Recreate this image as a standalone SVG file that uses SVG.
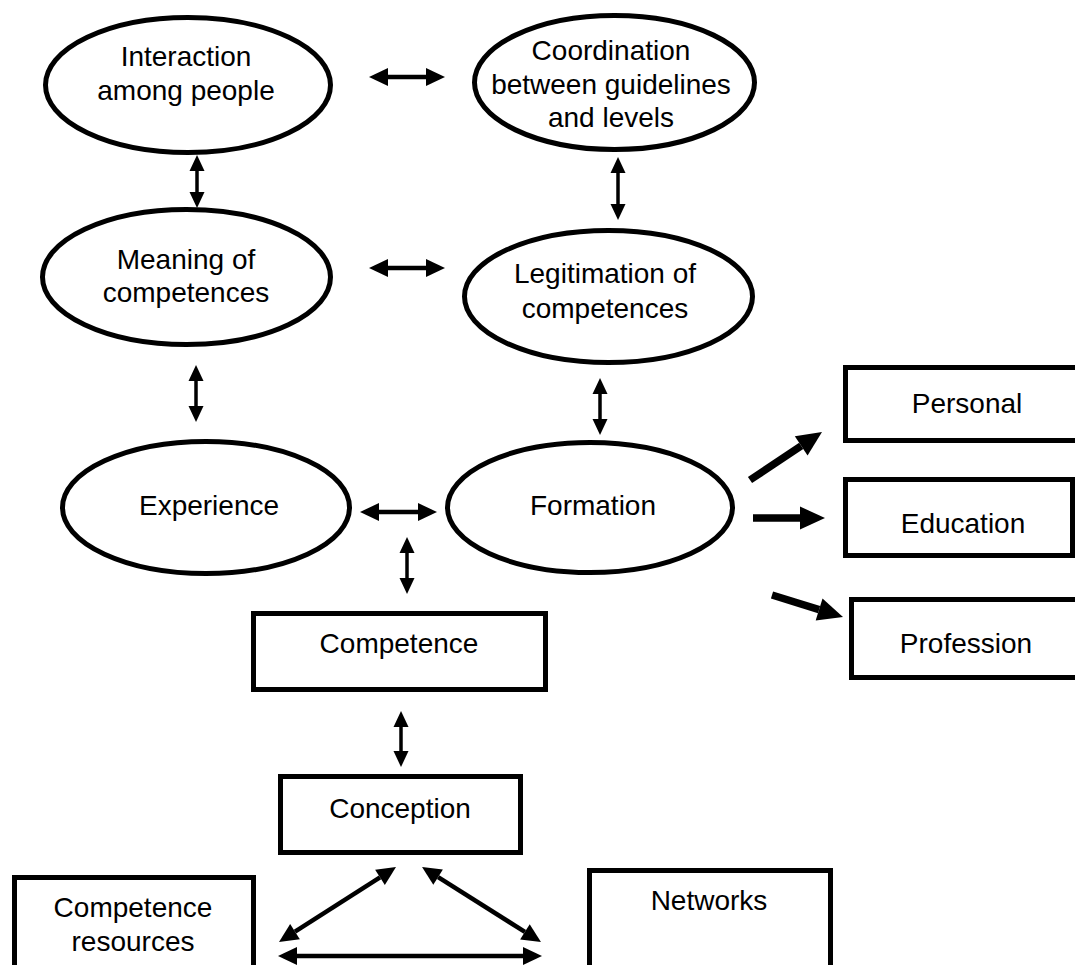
<svg xmlns="http://www.w3.org/2000/svg" width="1075" height="965" viewBox="0 0 1075 965">
<style>
.n{fill:#fff;stroke:#000;stroke-width:5}
.t{font-family:"Liberation Sans",Arial,sans-serif;font-size:28px;fill:#000;text-anchor:middle}
.v{stroke:#000;stroke-width:3.5;fill:none;marker-start:url(#ah);marker-end:url(#ah)}
.h{stroke:#000;stroke-width:4.5;fill:none;marker-start:url(#ah2);marker-end:url(#ah2)}
.k{stroke:#000;stroke-width:7.5;fill:none;marker-end:url(#bh)}
</style>
<defs>
<marker id="ah" markerUnits="userSpaceOnUse" viewBox="0 -7.5 16 15" markerWidth="16" markerHeight="15" refX="0" refY="0" orient="auto-start-reverse" overflow="visible">
<path d="M0,-7.5 L16,0 L0,7.5 Z" fill="#000"/>
</marker>
<marker id="ah2" markerUnits="userSpaceOnUse" viewBox="0 -9 19 18" markerWidth="19" markerHeight="18" refX="0" refY="0" orient="auto-start-reverse" overflow="visible">
<path d="M0,-9 L19,0 L0,9 Z" fill="#000"/>
</marker>
<marker id="bh" markerUnits="userSpaceOnUse" viewBox="0 -12 25 24" markerWidth="25" markerHeight="24" refX="0" refY="0" orient="auto" overflow="visible">
<path d="M0,-11.5 L25,0 L0,11.5 Z" fill="#000"/>
</marker>
</defs>
<rect width="1075" height="965" fill="#fff"/>
<g id="interaction"><ellipse class="n" cx="188" cy="85" rx="142.5" ry="67.5"/><text class="t" x="186" y="66">Interaction</text><text class="t" x="186" y="100">among people</text></g>
<g id="coordination"><ellipse class="n" cx="614.5" cy="82.5" rx="140" ry="67"/><text class="t" x="611" y="60">Coordination</text><text class="t" x="611" y="94">between guidelines</text><text class="t" x="611" y="127">and levels</text></g>
<g id="meaning"><ellipse class="n" cx="186.5" cy="277" rx="144" ry="67.5"/><text class="t" x="186" y="269">Meaning of</text><text class="t" x="186" y="302">competences</text></g>
<g id="legitimation"><ellipse class="n" cx="608.5" cy="296.5" rx="144" ry="66"/><text class="t" x="605" y="283">Legitimation of</text><text class="t" x="605" y="318">competences</text></g>
<g id="experience"><ellipse class="n" cx="206" cy="507.5" rx="143.5" ry="66"/><text class="t" x="209" y="515">Experience</text></g>
<g id="formation"><ellipse class="n" cx="590" cy="507.5" rx="142.5" ry="65"/><text class="t" x="593" y="515">Formation</text></g>
<g id="personal"><rect class="n" x="845.5" y="367.5" width="240" height="73"/><text class="t" x="967" y="413">Personal</text></g>
<g id="education"><rect class="n" x="845.5" y="479.5" width="227" height="76"/><text class="t" x="963" y="533">Education</text></g>
<g id="profession"><rect class="n" x="851.5" y="599.5" width="240" height="78"/><text class="t" x="966" y="653">Profession</text></g>
<g id="competence"><rect class="n" x="253.5" y="613.5" width="292" height="76"/><text class="t" x="399" y="653">Competence</text></g>
<g id="conception"><rect class="n" x="280.5" y="776.5" width="240" height="76"/><text class="t" x="400" y="818">Conception</text></g>
<g id="resources"><rect class="n" x="14.5" y="877.5" width="239" height="100"/><text class="t" x="133" y="917">Competence</text><text class="t" x="133" y="951">resources</text></g>
<g id="networks"><rect class="n" x="589.5" y="870.5" width="241" height="110"/><text class="t" x="709" y="910">Networks</text></g>
<g id="connectors">
<line class="h" x1="388" y1="77" x2="426" y2="77"/>
<line class="h" x1="388" y1="268" x2="426" y2="268"/>
<line class="h" x1="379" y1="512" x2="418" y2="512"/>
<line class="v" x1="197" y1="171" x2="197" y2="192"/>
<line class="v" x1="618" y1="173" x2="618" y2="204"/>
<line class="v" x1="196" y1="381" x2="196" y2="406"/>
<line class="v" x1="600" y1="394" x2="600" y2="419"/>
<line class="v" x1="407" y1="553" x2="407" y2="578"/>
<line class="v" x1="401" y1="727" x2="401" y2="751"/>
<line class="h" x1="297" y1="956" x2="523" y2="956"/>
<line class="h" x1="295" y1="931.7" x2="380" y2="877.3"/>
<line class="h" x1="438.1" y1="877.1" x2="524.9" y2="931.9"/>
<line class="k" x1="750" y1="480" x2="801.2" y2="445.9"/>
<line class="k" x1="753" y1="518" x2="800" y2="518"/>
<line class="k" x1="772" y1="595" x2="819.1" y2="609.6"/>
</g>
</svg>
